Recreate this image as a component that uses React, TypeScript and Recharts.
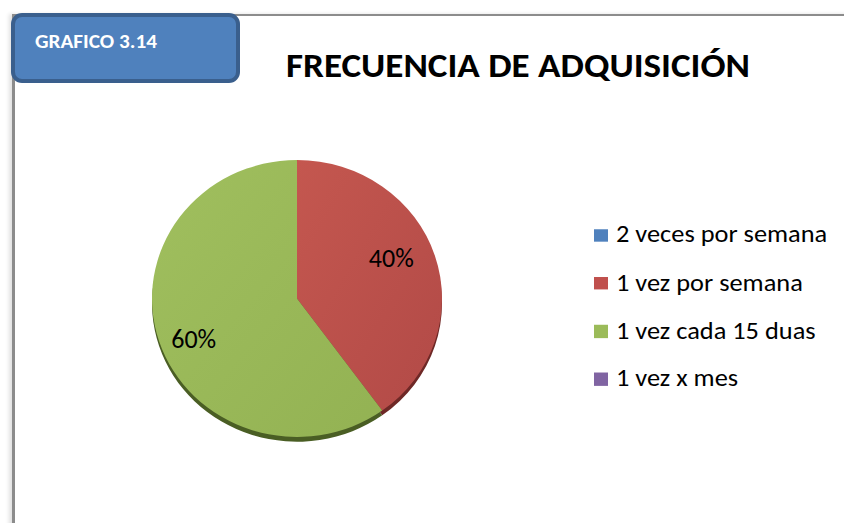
import { PieChart, Pie, Cell, Legend } from "recharts";

const categories = [
  "2 veces por semana",
  "1 vez por semana",
  "1 vez cada 15 duas",
  "1 vez x mes",
];
const values = [0, 40, 60, 0];
const colors = ["#4f81bd", "#c0504d", "#9bbb59", "#8064a2"];
const shadowColors = ["#2c4a70", "#6e2826", "#4a5e24", "#4a3a60"];

const data = categories.map((name, i) => ({ name, value: values[i] }));

const FONT = "Carlito, 'Open Sans', sans-serif";
const RAD = Math.PI / 180;
// the reference is slightly squashed vertically
const SQUASH = 0.955;
const CY = 298.5;

const renderLabel = (props: any) => {
  const { cx, cy, midAngle, outerRadius, percent, value } = props;
  if (!value) return null;
  const r = outerRadius * 0.74;
  const a = (midAngle + 5) * RAD;
  const x = cx - 4.5 + r * Math.cos(a);
  const y = cy - r * Math.sin(a);
  return (
    <text
      transform={`translate(${x},${y}) scale(1,${1 / SQUASH})`}
      fill="#000"
      fontFamily={FONT}
      fontSize={26}
      textAnchor="middle"
      dominantBaseline="central"
    >
      {`${Math.round(percent * 100)}%`}
    </text>
  );
};

const renderLegend = () => (
  <div style={{ fontFamily: FONT, fontSize: 25, color: "#000" }}>
    {data.map((d, i) => (
      <div key={d.name} style={{ display: "flex", alignItems: "center", height: 48 / SQUASH, whiteSpace: "nowrap" }}>
        <span
          style={{
            width: 14,
            height: 13 / SQUASH,
            background: colors[i],
            marginRight: 8,
            marginTop: 3,
            display: "inline-block",
            flex: "none",
          }}
        />
        <span style={{ display: "inline-block", transform: `scale(1.055, ${1 / SQUASH})`, transformOrigin: "left center" }}>
          {d.name}
        </span>
      </div>
    ))}
  </div>
);

export default function App() {
  return (
    <div style={{ position: "absolute", left: 0, top: 0, width: 844, height: 523, background: "#fff", overflow: "hidden" }}>
      {/* frame */}
      <div
        style={{
          position: "absolute",
          left: 12,
          top: 14,
          width: 860,
          height: 540,
          borderTop: "2px solid #8c8c8c",
          borderLeft: "3px solid #8c8c8c",
          boxShadow: "-3px 0 4px rgba(0,0,0,0.12)",
        }}
      />
      <div
        style={{
          position: "absolute",
          left: 0,
          top: 0,
          width: 844,
          height: 523,
          transform: `scale(1, ${SQUASH})`,
          transformOrigin: `0 ${CY}px`,
        }}
      >
        <PieChart width={844} height={523} margin={{ top: 0, right: 0, bottom: 0, left: 0 }}>
          <defs>
            <linearGradient id="gRed" x1="0" y1="0" x2="1" y2="1">
              <stop offset="0%" stopColor="#c4574f" />
              <stop offset="100%" stopColor="#b24a47" />
            </linearGradient>
            <linearGradient id="gGreen" x1="0" y1="0" x2="1" y2="1">
              <stop offset="0%" stopColor="#a0bf5e" />
              <stop offset="100%" stopColor="#93b253" />
            </linearGradient>
          </defs>
          <Pie
            data={data}
            dataKey="value"
            cx={297}
            cy={CY + 5}
            outerRadius={145}
            startAngle={90}
            endAngle={-270}
            stroke="none"
            isAnimationActive={false}
            legendType="none"
          >
            {data.map((d, i) => (
              <Cell key={d.name} fill={shadowColors[i]} />
            ))}
          </Pie>
          <Pie
            data={data}
            dataKey="value"
            cx={297}
            cy={CY}
            outerRadius={145}
            startAngle={90}
            endAngle={-270}
            stroke="none"
            label={renderLabel}
            labelLine={false}
            isAnimationActive={false}
          >
            {data.map((d, i) => (
              <Cell key={d.name} fill={i === 1 ? "url(#gRed)" : i === 2 ? "url(#gGreen)" : colors[i]} />
            ))}
          </Pie>
          <Legend content={renderLegend} wrapperStyle={{ left: 594, top: 205.8, width: 250 }} />
        </PieChart>
      </div>
      {/* badge */}
      <div
        style={{
          position: "absolute",
          left: 11,
          top: 13,
          width: 221,
          height: 62,
          background: "#4f81bd",
          border: "4px solid #3a5f8d",
          borderRadius: 11,
        }}
      />
      <svg width={844} height={523} style={{ position: "absolute", left: 0, top: 0 }}>
        <text x={35} y={48} fill="#fff" fontFamily={FONT} fontWeight={700} fontSize={20} textLength={122} lengthAdjust="spacingAndGlyphs">
          GRAFICO 3.14
        </text>
        <text x={286} y={77} fill="#000" fontFamily={FONT} fontWeight={700} fontSize={34} textLength={464} lengthAdjust="spacingAndGlyphs">
          FRECUENCIA DE ADQUISICIÓN
        </text>
      </svg>
    </div>
  );
}
